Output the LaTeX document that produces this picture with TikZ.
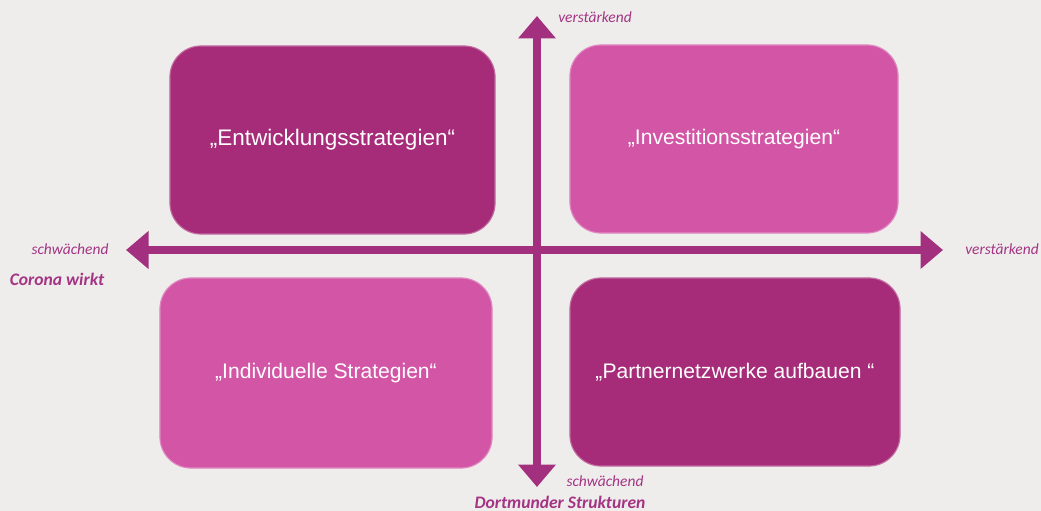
\documentclass[tikz,border=0pt]{standalone}
\usepackage{fontspec}
\setmainfont{Liberation Sans}
\newfontfamily\labelfont{Carlito}
\usetikzlibrary{arrows.meta}

\definecolor{bggrey}{HTML}{EEEDEB}
\definecolor{darkquad}{HTML}{A62B78}
\definecolor{lightquad}{HTML}{D355A6}
\definecolor{axiscol}{HTML}{A2307E}
\definecolor{labelcol}{HTML}{A43483}

\begin{document}
\begin{tikzpicture}[x=0.025cm, y=-0.025cm,
    quad/.style={rectangle, rounded corners=22pt, inner sep=0pt, text=white,
        font=\fontsize{15}{18}\selectfont, minimum height=4.7cm},
    dark/.style={quad, fill=darkquad, draw=darkquad!70!white, line width=0.8pt},
    light/.style={quad, fill=lightquad, draw=lightquad!70!white, line width=0.8pt},
    axislabel/.style={text=labelcol, font=\labelfont\itshape\fontsize{11}{13}\selectfont, inner sep=1pt},
    axistitle/.style={text=labelcol, font=\labelfont\bfseries\itshape\fontsize{12.5}{15}\selectfont, inner sep=1pt},
    axis/.style={draw=axiscol, line width=5.6pt, {Triangle[width=26pt,length=16pt]}-{Triangle[width=26pt,length=16pt]}}]
    % background
    \fill[bggrey] (0,0) rectangle (1041,511);
    \useasboundingbox (0,0) rectangle (1041,511);

    % quadrants
    \node[dark, minimum width=8.125cm, font=\fontsize{16}{19}\selectfont] (develop) at (332.5,140) {„Entwicklungsstrategien“};
    \node[light, minimum width=8.2cm] (invest) at (734,139) {„Investitionsstrategien“};
    \node[light, minimum width=8.3cm, minimum height=4.75cm] (individual) at (326,373) {„Individuelle Strategien“};
    \node[dark, minimum width=8.25cm] (partner) at (735,372) {„Partnernetzwerke aufbauen “};

    % axes
    \coordinate (top) at (537,16);
    \coordinate (bottom) at (537,487);
    \coordinate (left) at (126,250);
    \coordinate (right) at (943,250);
    \draw[axis] (left) -- (right);
    \draw[axis] (bottom) -- (top);

    % labels
    \node[axislabel] (topstrong) at (595,17) {verstärkend};
    \node[axislabel] (leftweak) at (70,249) {schwächend};
    \node[axistitle] (corona) at (57,279) {Corona wirkt};
    \node[axislabel] (rightstrong) at (1002,249) {verstärkend};
    \node[axislabel] (bottomweak) at (605,481) {schwächend};
    \node[axistitle] (dortmund) at (560,502) {Dortmunder Strukturen};
\end{tikzpicture}
\end{document}
